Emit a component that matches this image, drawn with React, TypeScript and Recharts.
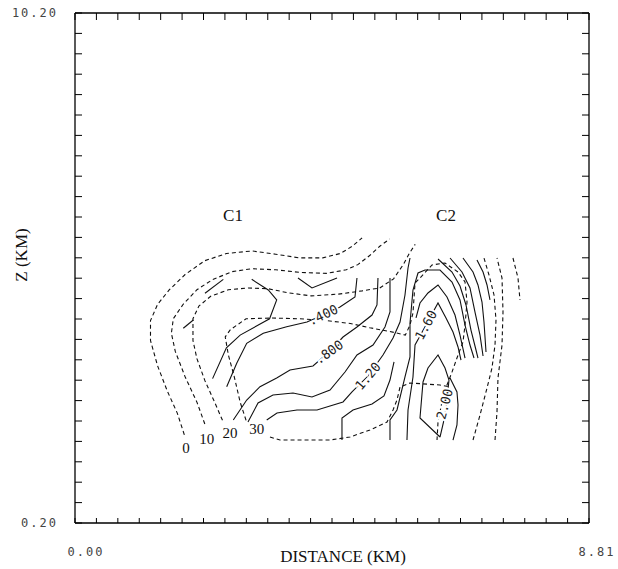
import React from 'react';
import { ComposedChart, Line, Scatter, XAxis, YAxis } from 'recharts';

type Pt = { x: number; y: number };
const toPts = (arr: number[][]): Pt[] => arr.map(([x, y]) => ({ x, y }));

// reflectivity contours (dashed), distance km / height km
const refl0 = toPts([[1.874,1.929],[1.753,2.355],[1.584,2.782],[1.416,3.280],[1.294,3.778],[1.294,4.169],[1.416,4.489],[1.618,4.774],[1.887,5.072],[2.225,5.343],[2.595,5.485],[3.033,5.534],[3.438,5.471],[3.842,5.399],[4.247,5.399],[4.550,5.485],[4.752,5.627],[4.921,5.791]]);
const refl10 = toPts([[2.225,2.142],[2.090,2.569],[1.887,3.067],[1.719,3.565],[1.652,3.920],[1.685,4.205],[1.854,4.489],[2.090,4.774],[2.359,4.973],[2.696,5.129],[3.033,5.186],[3.438,5.165],[3.842,5.115],[4.314,5.094],[4.651,5.165],[4.854,5.271],[5.056,5.449],[5.224,5.627],[5.393,5.769]]);
const refl20 = toPts([[2.528,2.213],[2.393,2.569],[2.225,2.996],[2.090,3.422],[2.022,3.778],[2.022,4.205],[2.123,4.453],[2.326,4.646],[2.629,4.774],[2.966,4.809],[3.303,4.795],[3.640,4.717],[4.045,4.653],[4.516,4.688],[4.921,4.752],[5.224,4.809],[5.460,4.987],[5.629,5.271],[5.730,5.485],[5.831,5.663]]);
const refl30 = toPts([[2.932,2.213],[2.831,2.569],[2.730,3.067],[2.629,3.493],[2.575,3.849],[2.663,3.991],[2.798,4.098],[2.932,4.205],[3.371,4.219],[3.842,4.205],[4.314,4.169],[4.719,4.112],[5.056,4.027],[5.393,3.956],[5.662,3.885],[5.742,4.082],[5.793,4.318],[5.828,4.906],[5.913,5.004],[6.119,5.259],[6.342,5.298],[6.565,5.122],[6.685,4.925],[6.719,4.533],[6.685,4.082],[6.650,3.749],[6.547,3.435],[6.462,3.161],[6.376,2.906],[6.290,2.573],[6.222,2.180],[6.205,1.827]]);
const refl30b = toPts([[3.342,1.886],[3.514,1.827],[3.857,1.827],[4.371,1.827],[4.714,1.886],[5.056,2.024],[5.348,2.180],[5.451,2.416],[5.519,2.612],[5.571,2.867],[5.742,2.945],[6.256,2.906],[6.428,2.867]]);
const reflR1 = toPts([[6.822,1.827],[6.942,2.318],[7.062,2.847],[7.147,3.239],[7.199,3.690],[7.216,4.180],[7.182,4.671],[7.096,5.063],[7.010,5.396]]);
const reflR2 = toPts([[7.199,1.827],[7.233,2.376],[7.250,3.043],[7.319,3.690],[7.336,4.337],[7.319,5.004],[7.233,5.396]]);
const reflR3 = toPts([[7.507,5.396],[7.593,5.004],[7.627,4.573]]);

// second field contours (solid)
const solA = toPts([[1.856,4.018],[2.028,4.180]]);
const solB = toPts([[2.228,4.704],[2.542,4.978]]);
const solV = toPts([[3.822,5.004],[4.062,4.808],[4.491,5.004]]);
const solC = toPts([[2.358,3.031],[2.595,3.635],[2.831,3.884],[3.335,4.204],[3.457,4.573],[3.313,4.769],[3.029,4.978]]);
const sol400 = toPts([[2.600,2.873],[2.772,3.331],[2.943,3.724],[3.227,3.920],[3.628,4.049],[3.976,4.141],[4.251,4.278],[4.542,4.435],[4.799,4.631],[4.833,5.004]]);
const sol800 = toPts([[2.713,2.220],[2.943,2.612],[3.171,2.873],[3.457,3.043],[3.685,3.200],[4.079,3.278],[4.354,3.553],[4.594,3.847],[4.833,4.043],[5.091,4.278],[5.176,4.475],[5.193,5.004]]);
const sol1000 = toPts([[2.965,2.180],[3.137,2.553],[3.394,2.710],[3.737,2.749],[4.062,2.671],[4.371,2.808],[4.628,3.161],[4.833,3.494],[5.108,3.690],[5.313,4.043],[5.399,4.337],[5.399,5.004]]);
const sol120 = toPts([[3.286,2.220],[3.462,2.357],[3.805,2.416],[4.148,2.416],[4.371,2.494],[4.594,2.573],[4.748,2.769],[5.022,3.082],[5.279,3.494],[5.451,3.827],[5.571,4.141],[5.656,4.671],[5.708,5.200],[5.742,5.396]]);
const sol140 = toPts([[4.576,1.827],[4.576,2.259],[4.765,2.416],[5.091,2.533],[5.296,2.690],[5.399,3.004],[5.468,3.357]]);
const solDome = toPts([[5.399,1.827],[5.399,2.220],[5.519,2.416],[5.656,3.063],[5.742,3.455],[5.742,4.122],[5.793,4.769],[5.879,5.102],[5.999,5.161],[6.256,5.161],[6.462,4.925],[6.599,4.573],[6.685,4.082],[6.770,3.690],[6.839,3.435]]);
const solInner = toPts([[5.845,4.220],[5.913,4.514],[6.050,4.710],[6.222,4.867],[6.376,4.631],[6.513,4.278],[6.599,3.884],[6.685,3.435]]);
const sol160 = toPts([[5.690,1.827],[5.708,2.416],[5.793,3.063],[5.828,3.690],[6.016,4.082],[6.222,4.514],[6.359,4.220],[6.479,3.945],[6.565,3.651],[6.616,3.396]]);
const solEast = toPts([[6.428,3.043],[6.547,2.769],[6.565,2.514],[6.547,2.122],[6.479,1.827]]);
const sol200 = toPts([[6.256,1.886],[5.913,2.259],[5.965,2.965],[6.050,3.239],[6.222,3.494],[6.342,3.239],[6.410,3.004],[6.376,2.612],[6.325,2.220],[6.256,1.886]]);
const solR1 = toPts([[6.222,5.377],[6.462,5.122],[6.599,4.847],[6.702,4.475],[6.787,3.984],[6.873,3.592],[6.907,3.435]]);
const solR2 = toPts([[6.428,5.396],[6.633,5.122],[6.770,4.808],[6.856,4.337],[6.942,3.884],[6.994,3.475]]);
const solR3 = toPts([[6.650,5.396],[6.822,5.122],[6.907,4.867],[6.976,4.533],[7.010,4.141],[7.045,3.553]]);
const solR4 = toPts([[6.890,5.357],[6.994,5.122],[7.062,4.867],[7.113,4.573]]);

const dashedSet = [refl0, refl10, refl20, refl30, refl30b, reflR1, reflR2, reflR3];
const solidSet = [solA, solB, solV, solC, sol400, sol800, sol1000, sol120, sol140, solDome, solInner, sol160, solEast, sol200, solR1, solR2, solR3, solR4];

// labels on the contours
const contourLabels = [
  { x: 4.251, y: 4.278, text: '.400' },
  { x: 4.354, y: 3.553, text: '.800' },
  { x: 5.022, y: 3.082, text: '1.20' },
  { x: 6.016, y: 4.082, text: '1.60' },
  { x: 6.337, y: 2.533, text: '2.00' },
];
const labelAngle: Record<string, number> = { '.400': -25, '.800': -35, '1.20': -50, '1.60': -62, '2.00': -75 };

const dbzLabels = [
  { x: 1.903, y: 1.671, text: '0' },
  { x: 2.257, y: 1.847, text: '10' },
  { x: 2.657, y: 1.965, text: '20' },
  { x: 3.114, y: 2.043, text: '30' },
];
const cellLabels = [
  { x: 2.708, y: 6.239, text: 'C1' },
  { x: 6.359, y: 6.239, text: 'C2' },
];

const xDomain = [0, 8.81];
const yDomain = [0.2, 10.2];
const xEndLabels = ['0.00', '8.81'];
const yEndLabels = ['0.20', '10.20'];
const xTicks = Array.from({ length: 25 }, (_, i) => (i * 8.81) / 24);
const yTicks = Array.from({ length: 26 }, (_, i) => 0.2 + i * 0.4);

const mono = "'DejaVu Sans Mono', monospace";
const serif = "'Liberation Serif', 'Times New Roman', serif";

const endText = { fontFamily: mono, fontSize: 12, fill: '#444', letterSpacing: 2 };

const BottomTick = (p: any) => {
  const { x, y, index } = p;
  const last = index === xTicks.length - 1;
  return (
    <g>
      <line x1={x} y1={y} x2={x} y2={y - 5} stroke="#000" />
      {(index === 0 || last) && (
        <text x={x + (last ? 8 : 11)} y={y + 29} textAnchor="middle" dominantBaseline="central" {...endText}>
          {last ? xEndLabels[1] : xEndLabels[0]}
        </text>
      )}
    </g>
  );
};

const TopTick = (p: any) => <line x1={p.x} y1={p.y} x2={p.x} y2={p.y + 7} stroke="#000" />;

const LeftTick = (p: any) => {
  const { x, y, index } = p;
  const last = index === yTicks.length - 1;
  return (
    <g>
      <line x1={x} y1={y} x2={x + 7} y2={y} stroke="#000" />
      {(index === 0 || last) && (
        <text x={x - 17} y={y} textAnchor="end" dominantBaseline="central" {...endText}>
          {last ? yEndLabels[1] : yEndLabels[0]}
        </text>
      )}
    </g>
  );
};

const RightTick = (p: any) => <line x1={p.x} y1={p.y} x2={p.x - 7} y2={p.y} stroke="#000" />;

const ContourText = (p: any) => (
  <text
    x={p.cx}
    y={p.cy}
    textAnchor="middle"
    dominantBaseline="central"
    transform={`rotate(${labelAngle[p.payload.text]} ${p.cx} ${p.cy})`}
    fontFamily={mono}
    fontSize={13}
    fill="#222"
    stroke="#fff"
    strokeWidth={4}
    paintOrder="stroke"
  >
    {p.payload.text}
  </text>
);

const SerifText = (size: number) => (p: any) => (
  <text x={p.cx} y={p.cy} textAnchor="middle" dominantBaseline="central" fontFamily={serif} fontSize={size} fill="#111">
    {p.payload.text}
  </text>
);

const axisLine = { stroke: '#000', strokeWidth: 1.3 };

export default function App() {
  return (
    <div style={{ position: 'absolute', left: 0, top: 0, background: '#fff' }}>
      <ComposedChart width={618} height={569} margin={{ top: 8, right: 19, bottom: 16, left: 35 }}>
        <XAxis xAxisId="b" type="number" dataKey="x" domain={xDomain} ticks={xTicks} interval={0}
          height={30} tickSize={0} tickMargin={0} tickLine={false} axisLine={axisLine} tick={BottomTick} allowDataOverflow />
        <XAxis xAxisId="t" orientation="top" type="number" dataKey="x" domain={xDomain} ticks={xTicks} interval={0}
          height={5} tickSize={0} tickMargin={0} tickLine={false} axisLine={axisLine} tick={TopTick} allowDataOverflow />
        <YAxis yAxisId="l" type="number" dataKey="y" domain={yDomain} ticks={yTicks} interval={0}
          width={40} tickSize={0} tickMargin={0} tickLine={false} axisLine={axisLine} tick={LeftTick} allowDataOverflow />
        <YAxis yAxisId="r" orientation="right" type="number" dataKey="y" domain={yDomain} ticks={yTicks} interval={0}
          width={10} tickSize={0} tickMargin={0} tickLine={false} axisLine={axisLine} tick={RightTick} allowDataOverflow />

        {dashedSet.map((d, i) => (
          <Line key={`d${i}`} data={d} dataKey="y" xAxisId="b" yAxisId="l" type="linear" stroke="#111"
            strokeWidth={1.1} strokeDasharray="4 3" dot={false} activeDot={false} isAnimationActive={false} />
        ))}
        {solidSet.map((d, i) => (
          <Line key={`s${i}`} data={d} dataKey="y" xAxisId="b" yAxisId="l" type="linear" stroke="#111"
            strokeWidth={1.1} dot={false} activeDot={false} isAnimationActive={false} />
        ))}

        <Scatter data={contourLabels} xAxisId="b" yAxisId="l" shape={ContourText} isAnimationActive={false} />
        <Scatter data={dbzLabels} xAxisId="b" yAxisId="l" shape={SerifText(15)} isAnimationActive={false} />
        <Scatter data={cellLabels} xAxisId="b" yAxisId="l" shape={SerifText(17)} isAnimationActive={false} />

        <text x={343} y={556} textAnchor="middle" dominantBaseline="central" fontFamily={serif} fontSize={17} fill="#111">
          DISTANCE (KM)
        </text>
        <text transform="translate(21,255) rotate(-90)" textAnchor="middle" dominantBaseline="central"
          fontFamily={serif} fontSize={17} fill="#111">
          Z (KM)
        </text>
      </ComposedChart>
    </div>
  );
}
